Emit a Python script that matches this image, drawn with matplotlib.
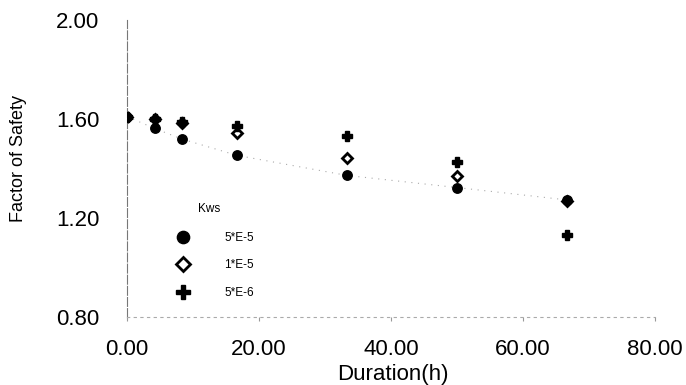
import matplotlib
matplotlib.use("Agg")
import matplotlib.pyplot as plt

plt.rcParams['font.family'] = ['Liberation Sans', 'DejaVu Sans']

duration = [0.0, 4.17, 8.33, 16.67, 33.33, 50.0, 66.67]
fos_5e5 = [1.61, 1.562, 1.519, 1.453, 1.372, 1.323, 1.273]
fos_1e5 = [1.61, 1.598, 1.585, 1.543, 1.443, 1.368, 1.27]
fos_5e6 = [1.61, 1.600, 1.587, 1.570, 1.530, 1.425, 1.130]
series_labels = ["5*E-5", "1*E-5", "5*E-6"]
legend_title = "Kws"
x_ticks = [0, 20, 40, 60, 80]
y_ticks = [0.80, 1.20, 1.60, 2.00]

W, H = 686, 385
fig = plt.figure(figsize=(W / 100, H / 100), dpi=100)
ax = fig.add_axes([127 / W, 1 - 317 / H, 528 / W, 297 / H])

ax.plot(duration, fos_5e5, linestyle=(0, (1, 5)), color='#aaaaaa', lw=0.8, zorder=1)
ax.plot(duration, fos_1e5, 'D', mfc='white', mec='black', mew=2, ms=5.5, ls='none',
        label=series_labels[1], zorder=2)
ax.plot(duration, fos_5e6, 'P', color='black', ms=7.5, ls='none',
        label=series_labels[2], zorder=3)
ax.plot(duration, fos_5e5, 'o', color='black', ms=6.8, ls='none',
        label=series_labels[0], zorder=4)

ax.set_xlim(0, 80)
ax.set_ylim(0.8, 2.0)
ax.set_xticks(x_ticks)
ax.set_xticklabels([f"{v:.2f}" for v in x_ticks], fontsize=16)
ax.set_yticks(y_ticks)
ax.set_yticklabels([f"{v:.2f}" for v in y_ticks], fontsize=16)
ax.tick_params(axis='x', length=3, color='#999999', pad=13)
ax.tick_params(axis='y', length=0, pad=20)

for s in ['top', 'right']:
    ax.spines[s].set_visible(False)
ax.spines['left'].set_color('#777777')
ax.spines['left'].set_linestyle((0, (8, 2)))
ax.spines['left'].set_linewidth(0.8)
ax.spines['bottom'].set_color('#aaaaaa')
ax.spines['bottom'].set_linestyle((0, (2, 4)))
ax.spines['bottom'].set_linewidth(0.8)

ax.set_xlabel("Duration(h)", fontsize=16)
ax.xaxis.set_label_coords(0.504, -0.158)
ax.set_ylabel("Factor of Safety", fontsize=13)
ax.yaxis.set_label_coords(-0.19, 0.535)

handles, labels = ax.get_legend_handles_labels()
order = [labels.index(l) for l in series_labels]
leg = ax.legend([handles[i] for i in order], [labels[i] for i in order],
                loc='upper left', bbox_to_anchor=(171 / W, 1 - 232 / H),
                bbox_transform=fig.transFigure, frameon=False, fontsize=8.5,
                markerscale=1.3, handlelength=2.0, handletextpad=2.5,
                labelspacing=1.3, borderpad=0, borderaxespad=0)
fig.text(209 / W, 1 - 209 / H, legend_title, fontsize=8.5, ha='center', va='center')

fig.savefig("out.png", dpi=100, facecolor='white')
